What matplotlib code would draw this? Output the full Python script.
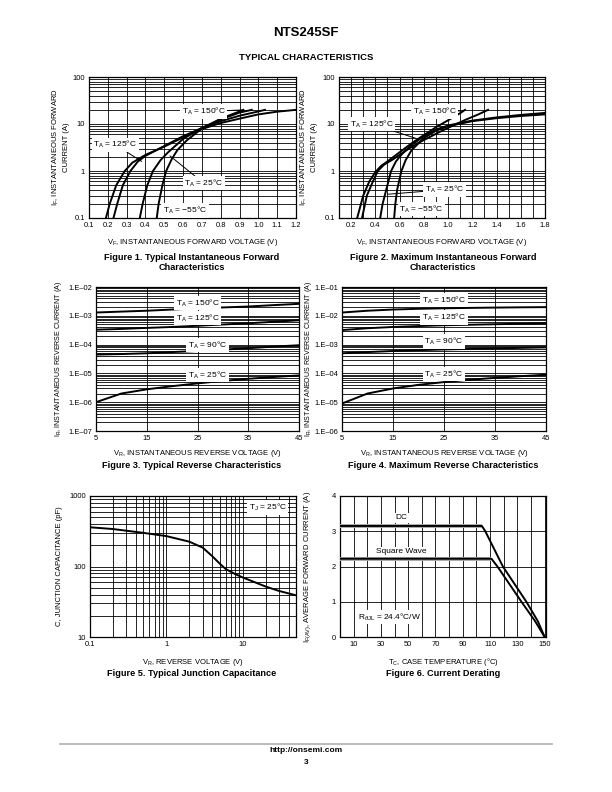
import numpy as np
import matplotlib
matplotlib.use("Agg")
import matplotlib.pyplot as plt
from matplotlib.ticker import LogLocator, FixedLocator, NullFormatter

plt.rcParams['font.family'] = ['Liberation Sans', 'DejaVu Sans']
plt.rcParams['mathtext.fontset'] = 'custom'
plt.rcParams['mathtext.rm'] = 'Liberation Sans'
plt.rcParams['mathtext.it'] = 'Liberation Sans:italic'
plt.rcParams['mathtext.bf'] = 'Liberation Sans:bold'

# ---------------- DATA ----------------
# Figure 1: typical forward (V, A)
f1_150_v = [0.19, 0.21, 0.245, 0.29, 0.33, 0.40, 0.50, 0.60, 0.70, 0.80, 0.90, 1.00, 1.10, 1.20]
f1_150_i = [0.1, 0.2, 0.5, 1.0, 1.5, 2.2, 3.3, 5.2, 7.8, 10.5, 13.0, 16.0, 18.3, 20.0]
f1_125_v = [0.23, 0.25, 0.28, 0.32, 0.36, 0.40, 0.50, 0.60, 0.70, 0.80, 0.90, 1.00, 1.035]
f1_125_i = [0.1, 0.2, 0.5, 1.0, 1.6, 2.1, 3.4, 5.5, 8.2, 11.5, 15.0, 18.5, 20.0]
f1_25_v = [0.37, 0.385, 0.41, 0.44, 0.48, 0.52, 0.60, 0.70, 0.80, 0.90, 0.965]
f1_25_i = [0.1, 0.2, 0.5, 1.0, 1.7, 2.5, 4.8, 8.3, 12.5, 17.5, 20.0]
f1_m55_v = [0.46, 0.47, 0.49, 0.51, 0.54, 0.57, 0.62, 0.70, 0.80, 0.90, 0.92]
f1_m55_i = [0.1, 0.2, 0.5, 1.0, 1.8, 2.8, 4.5, 8.0, 13.0, 18.5, 20.0]

# Figure 2: maximum forward
f2_150_v = [0.25, 0.30, 0.35, 0.40, 0.45, 0.50, 0.60, 0.70, 0.80, 0.90, 1.00, 1.10, 1.14]
f2_150_i = [0.1, 0.3, 0.6, 0.95, 1.3, 1.6, 2.5, 3.9, 5.8, 8.5, 12.0, 17.0, 20.0]
f2_125_v = [0.29, 0.33, 0.38, 0.42, 0.47, 0.55, 0.65, 0.75, 0.85, 0.95, 1.05, 1.15, 1.25, 1.33]
f2_125_i = [0.1, 0.3, 0.6, 1.0, 1.35, 1.8, 2.7, 3.9, 5.3, 7.2, 9.5, 12.5, 16.0, 20.0]
f2_25_v = [0.44, 0.46, 0.49, 0.53, 0.57, 0.62, 0.70, 0.80, 0.90, 1.00, 1.20, 1.40, 1.60, 1.80]
f2_25_i = [0.1, 0.2, 0.4, 1.0, 1.6, 2.3, 3.6, 5.5, 7.6, 9.3, 11.8, 13.8, 15.6, 17.2]
f2_m55_v = [0.555, 0.565, 0.58, 0.615, 0.65, 0.70, 0.80, 0.90, 1.00, 1.20, 1.40, 1.60, 1.80]
f2_m55_i = [0.1, 0.2, 0.4, 1.0, 1.7, 2.8, 5.0, 7.2, 9.0, 11.5, 13.3, 14.8, 16.0]

# Figure 3: typical reverse (V, A)
vr = [5, 10, 15, 20, 25, 30, 35, 40, 45]
f3_150 = [1.3e-3, 1.4e-3, 1.5e-3, 1.65e-3, 1.8e-3, 1.95e-3, 2.1e-3, 2.35e-3, 2.6e-3]
f3_125 = [3.3e-4, 3.5e-4, 3.8e-4, 4.1e-4, 4.5e-4, 5.0e-4, 5.5e-4, 6.2e-4, 7.0e-4]
f3_90 = [4.5e-5, 4.7e-5, 5.0e-5, 5.5e-5, 6.0e-5, 6.7e-5, 7.5e-5, 8.5e-5, 9.5e-5]
f3_25 = [1.0e-6, 2.0e-6, 2.8e-6, 3.6e-6, 4.5e-6, 5.5e-6, 6.5e-6, 7.5e-6, 8.5e-6]

# Figure 4: maximum reverse
f4_150 = [1.3e-2, 1.5e-2, 1.65e-2, 1.75e-2, 1.82e-2, 1.88e-2, 1.93e-2, 1.97e-2, 2.0e-2]
f4_125 = [3.2e-3, 3.7e-3, 4.1e-3, 4.4e-3, 4.7e-3, 4.9e-3, 5.1e-3, 5.3e-3, 5.5e-3]
f4_90 = [5.0e-4, 5.5e-4, 6.0e-4, 6.4e-4, 6.8e-4, 7.1e-4, 7.4e-4, 7.7e-4, 8.0e-4]
f4_25 = [9.0e-6, 2.0e-5, 3.0e-5, 4.0e-5, 5.0e-5, 6.0e-5, 7.0e-5, 8.0e-5, 9.0e-5]

# Figure 5: junction capacitance (V, pF)
f5_v = [0.1, 0.2, 0.5, 1.0, 2.0, 3.0, 4.0, 5.0, 6.0, 8.0, 10.0, 20.0, 30.0, 50.0]
f5_c = [360, 340, 300, 270, 225, 185, 140, 110, 92, 78, 70, 52, 45, 39]

# Figure 6: current derating (degC, A)
dc_t = [0, 104, 106.5, 119.4, 136.6, 145, 150]
dc_i = [3.15, 3.15, 3.0, 2.0, 1.0, 0.45, 0.0]
sw_t = [0, 111, 115.4, 133, 143, 150]
sw_i = [2.22, 2.22, 2.0, 1.0, 0.45, 0.0]

f1_xticks = [0.1, 0.2, 0.3, 0.4, 0.5, 0.6, 0.7, 0.8, 0.9, 1.0, 1.1, 1.2]
f2_xticks = [0.2, 0.4, 0.6, 0.8, 1.0, 1.2, 1.4, 1.6, 1.8]
f34_xticks = [5, 15, 25, 35, 45]
f6_xticks = [10, 30, 50, 70, 90, 110, 130, 150]

# ---------------- LAYOUT ----------------
W, H = 612, 792
fig = plt.figure(figsize=(W / 100, H / 100), dpi=100)

def add_ax(l, r, t, b):
    return fig.add_axes([l / W, 1 - b / H, (r - l) / W, (b - t) / H])

TICK = 5.4
LAB = 5.5
ANN = 6.0
CAP = 6.6
GLW = 0.6
CLW = 1.4

def style(ax):
    ax.tick_params(which='both', length=0, labelsize=TICK, pad=3)
    for s in ax.spines.values():
        s.set_linewidth(0.9)
        s.set_color('black')
    ax.set_axisbelow(True)

def loggrid_y(ax):
    ax.yaxis.set_minor_locator(LogLocator(base=10, subs=np.arange(2, 10)))
    ax.yaxis.set_minor_formatter(NullFormatter())
    ax.grid(True, which='both', axis='y', color='black', lw=GLW)

box = dict(boxstyle='square,pad=0.2', fc='white', ec='none')

def label(ax, txt, xy, xytext=None):
    if xytext is None:
        ax.text(xy[0], xy[1], txt, fontsize=ANN, ha='center', va='center', bbox=box, zorder=6)
    else:
        ax.annotate(txt, xy=xy, xytext=xytext, fontsize=ANN, ha='center', va='center', bbox=box,
                    arrowprops=dict(arrowstyle='-', lw=0.7, color='black', shrinkA=0, shrinkB=0), zorder=6)

# header
fig.text(306 / W, 1 - 33 / H, 'NTS245SF', ha='center', va='center', fontsize=9.5, weight='bold')
fig.text(306 / W, 1 - 57 / H, 'TYPICAL CHARACTERISTICS', ha='center', va='center', fontsize=6.8, weight='bold')

# ---- Figure 1 ----
ax1 = add_ax(89, 296, 77, 218)
style(ax1)
ax1.set_yscale('log')
ax1.set_ylim(0.1, 100)
ax1.set_xlim(0.1, 1.2)
ax1.set_xticks(f1_xticks)
ax1.set_xticklabels([f'{v:.1f}' for v in f1_xticks])
ax1.set_yticks([0.1, 1, 10, 100])
ax1.set_yticklabels(['0.1', '1', '10', '100'])
loggrid_y(ax1)
ax1.grid(True, which='major', axis='x', color='black', lw=GLW)
for v, i in [(f1_150_v, f1_150_i), (f1_125_v, f1_125_i), (f1_25_v, f1_25_i), (f1_m55_v, f1_m55_i)]:
    ax1.plot(v, i, color='black', lw=CLW, zorder=4)
label(ax1, 'T$_\\mathregular{A}$ = 150°C', (0.91, 19.9), (0.71, 18.3))
label(ax1, 'T$_\\mathregular{A}$ = 125°C', (0.38, 1.6), (0.24, 3.6))
label(ax1, 'T$_\\mathregular{A}$ = 25°C', (0.53, 2.1), (0.71, 0.55))
label(ax1, 'T$_\\mathregular{A}$ = \u221255°C', (0.61, 0.143))
ax1.set_xlabel('V$_\\mathregular{F}$, INSTANTANEOUS FORWARD VOLTAGE (V)', fontsize=LAB, labelpad=6)
ax1.set_ylabel('I$_\\mathregular{F}$, INSTANTANEOUS FORWARD\nCURRENT (A)', fontsize=LAB, linespacing=1.3)
ax1.yaxis.set_label_coords(-0.092, 0.5)
fig.text(192 / W, 1 - 262.5 / H, 'Figure 1. Typical Instantaneous Forward\nCharacteristics', ha='center',
         va='center', fontsize=CAP, weight='bold', linespacing=1.25)

# ---- Figure 2 ----
ax2 = add_ax(339, 545, 77, 218)
style(ax2)
ax2.set_yscale('log')
ax2.set_ylim(0.1, 100)
ax2.set_xlim(0.1, 1.8)
ax2.set_xticks(f2_xticks)
ax2.set_xticklabels([f'{v:.1f}' for v in f2_xticks])
ax2.xaxis.set_minor_locator(FixedLocator(np.arange(0.3, 1.8, 0.2)))
ax2.set_yticks([0.1, 1, 10, 100])
ax2.set_yticklabels(['0.1', '1', '10', '100'])
loggrid_y(ax2)
ax2.grid(True, which='both', axis='x', color='black', lw=GLW)
for v, i in [(f2_150_v, f2_150_i), (f2_125_v, f2_125_i), (f2_25_v, f2_25_i), (f2_m55_v, f2_m55_i)]:
    ax2.plot(v, i, color='black', lw=CLW, zorder=4)
label(ax2, 'T$_\\mathregular{A}$ = 150°C', (1.12, 19), (0.89, 18.5))
label(ax2, 'T$_\\mathregular{A}$ = 125°C', (0.73, 5.0), (0.37, 10.0))
label(ax2, 'T$_\\mathregular{A}$ = 25°C', (0.50, 0.32), (0.97, 0.4))
label(ax2, 'T$_\\mathregular{A}$ = \u221255°C', (0.78, 0.155))
ax2.set_xlabel('V$_\\mathregular{F}$, INSTANTANEOUS FORWARD VOLTAGE (V)', fontsize=LAB, labelpad=6)
ax2.set_ylabel('I$_\\mathregular{F}$, INSTANTANEOUS FORWARD\nCURRENT (A)', fontsize=LAB, linespacing=1.3)
ax2.yaxis.set_label_coords(-0.102, 0.5)
fig.text(443 / W, 1 - 262.5 / H, 'Figure 2. Maximum Instantaneous Forward\nCharacteristics', ha='center',
         va='center', fontsize=CAP, weight='bold', linespacing=1.25)

# ---- Figure 3 & 4 ----
def reverse_ax(ax, ylo, yhi, lx):
    style(ax)
    ax.set_yscale('log')
    ax.set_ylim(ylo, yhi)
    ax.set_xlim(5, 45)
    ax.set_xticks(f34_xticks)
    ax.set_xticklabels([str(v) for v in f34_xticks])
    decs = range(int(round(np.log10(ylo))), int(round(np.log10(yhi))) + 1)
    ax.set_yticks([10.0 ** d for d in decs])
    ax.set_yticklabels([f'1.E\u2013{abs(d):02d}' for d in decs])
    loggrid_y(ax)
    ax.grid(True, which='major', axis='x', color='black', lw=GLW)
    ax.set_xlabel('V$_\\mathregular{R}$, INSTANTANEOUS REVERSE VOLTAGE (V)', fontsize=LAB, labelpad=4)
    ax.set_ylabel('I$_\\mathregular{R}$, INSTANTANEOUS REVERSE CURRENT (A)', fontsize=5.1)
    ax.yaxis.set_label_coords(lx, 0.5)

ax3 = add_ax(96, 299, 287, 431)
reverse_ax(ax3, 1e-7, 1e-2, -0.160)
for s in [f3_150, f3_125, f3_90, f3_25]:
    ax3.plot(vr, s, color='black', lw=CLW, zorder=4)
label(ax3, 'T$_\\mathregular{A}$ = 150°C', (25, 2.8e-3))
label(ax3, 'T$_\\mathregular{A}$ = 125°C', (25, 8.4e-4))
label(ax3, 'T$_\\mathregular{A}$ = 90°C', (27, 9.7e-5))
label(ax3, 'T$_\\mathregular{A}$ = 25°C', (27, 8.7e-6))
fig.text(192 / W, 1 - 465 / H, 'Figure 3. Typical Reverse Characteristics', ha='center', va='center',
         fontsize=CAP, weight='bold')

ax4 = add_ax(342, 546, 287, 431)
reverse_ax(ax4, 1e-6, 1e-1, -0.138)
for s in [f4_150, f4_125, f4_90, f4_25]:
    ax4.plot(vr, s, color='black', lw=CLW, zorder=4)
label(ax4, 'T$_\\mathregular{A}$ = 150°C', (25, 3.5e-2))
label(ax4, 'T$_\\mathregular{A}$ = 125°C', (25, 8.9e-3))
label(ax4, 'T$_\\mathregular{A}$ = 90°C', (25, 1.26e-3))
label(ax4, 'T$_\\mathregular{A}$ = 25°C', (25, 9.5e-5))
fig.text(443 / W, 1 - 465 / H, 'Figure 4. Maximum Reverse Characteristics', ha='center', va='center',
         fontsize=CAP, weight='bold')

# ---- Figure 5 ----
ax5 = add_ax(90, 296, 496, 637)
style(ax5)
ax5.set_xscale('log')
ax5.set_yscale('log')
ax5.set_xlim(0.1, 50)
ax5.set_ylim(10, 1000)
ax5.set_xticks([0.1, 1, 10])
ax5.set_xticklabels(['0.1', '1', '10'])
ax5.xaxis.set_minor_locator(LogLocator(base=10, subs=np.arange(2, 10)))
ax5.xaxis.set_minor_formatter(NullFormatter())
ax5.set_yticks([10, 100, 1000])
ax5.set_yticklabels(['10', '100', '1000'])
loggrid_y(ax5)
ax5.grid(True, which='both', axis='x', color='black', lw=GLW)
ax5.plot(f5_v, f5_c, color='black', lw=CLW, zorder=4)
ax5.text(0.955, 0.92, 'T$_\\mathregular{J}$ = 25°C', transform=ax5.transAxes, fontsize=ANN, ha='right',
         va='center', bbox=box, zorder=6)
ax5.set_xlabel('V$_\\mathregular{R}$, REVERSE VOLTAGE (V)', fontsize=LAB, labelpad=6)
ax5.set_ylabel('C, JUNCTION CAPACITANCE (pF)', fontsize=LAB)
ax5.yaxis.set_label_coords(-0.131, 0.5)
fig.text(192 / W, 1 - 674 / H, 'Figure 5. Typical Junction Capacitance', ha='center', va='center',
         fontsize=CAP, weight='bold')

# ---- Figure 6 ----
ax6 = add_ax(340, 546, 496, 637)
style(ax6)
ax6.set_xlim(0, 151)
ax6.set_ylim(0, 4)
ax6.set_xticks(f6_xticks)
ax6.xaxis.set_minor_locator(FixedLocator(np.arange(20, 150, 20)))
ax6.set_yticks([0, 1, 2, 3, 4])
ax6.grid(True, which='both', axis='x', color='black', lw=GLW)
ax6.grid(True, which='major', axis='y', color='black', lw=GLW)
for t, i in [(dc_t, dc_i), (sw_t, sw_i)]:
    ax6.plot(t[:2], i[:2], color='#a8a8a8', lw=2.8, zorder=3, solid_capstyle='butt')
    ax6.plot(t, i, color='black', lw=1.4, zorder=4)
ax6.text(45, 3.38, 'DC', fontsize=ANN, ha='center', va='center', bbox=box, zorder=6)
ax6.text(45, 2.42, 'Square Wave', fontsize=ANN, ha='center', va='center', bbox=box, zorder=6)
ax6.text(36, 0.57, 'R$_{\\theta\\mathregular{JL}}$ = 24.4°C/W', fontsize=ANN, ha='center', va='center',
         bbox=box, zorder=6)
ax6.set_xlabel('T$_\\mathregular{C}$, CASE TEMPERATURE (°C)', fontsize=LAB, labelpad=6)
ax6.set_ylabel('I$_\\mathregular{F(AV)}$, AVERAGE FORWARD CURRENT (A)', fontsize=LAB)
ax6.yaxis.set_label_coords(-0.131, 0.5)
fig.text(443 / W, 1 - 674 / H, 'Figure 6. Current Derating', ha='center', va='center',
         fontsize=CAP, weight='bold')

# footer
fig.add_artist(plt.Line2D([60 / W, 552 / W], [1 - 744 / H, 1 - 744 / H], color='#b0b0b0', lw=1.2))
fig.text(306 / W, 1 - 751 / H, 'http://onsemi.com', ha='center', va='center', fontsize=6.0, weight='bold')
fig.text(306 / W, 1 - 762 / H, '3', ha='center', va='center', fontsize=6.0, weight='bold')

fig.savefig('out.png', dpi=100)
